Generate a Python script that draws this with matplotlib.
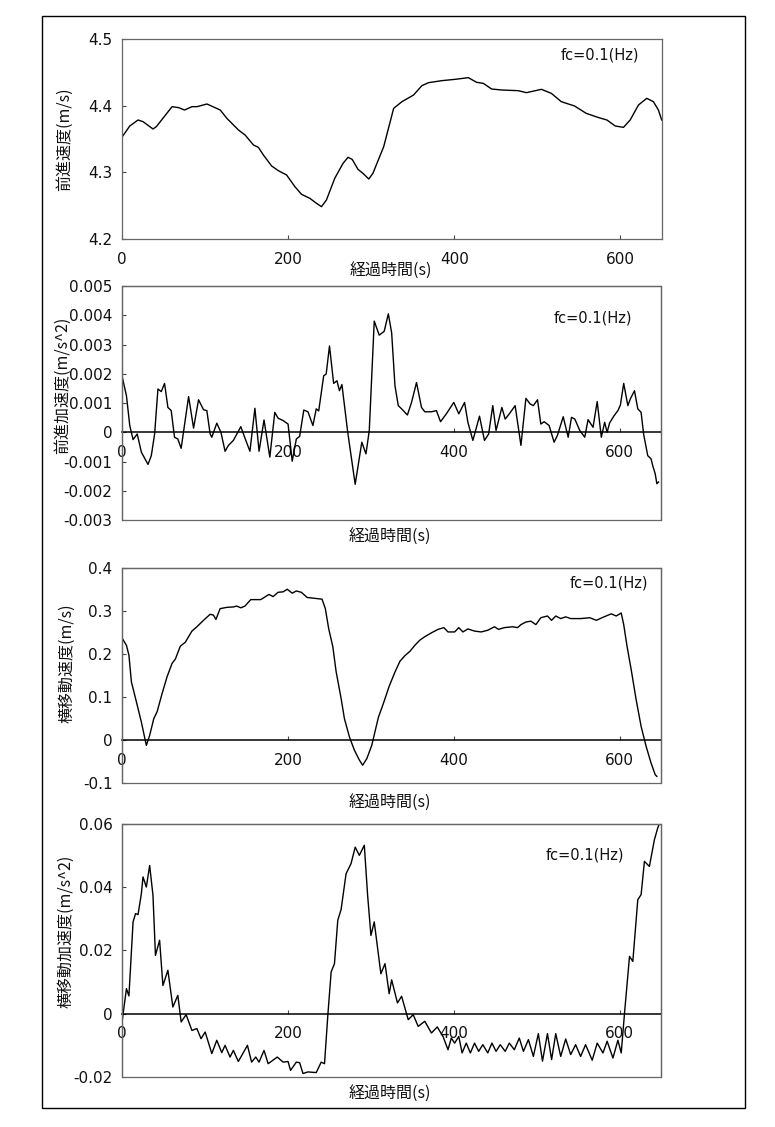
import matplotlib
matplotlib.use("Agg")
import matplotlib.pyplot as plt
from matplotlib.patches import Rectangle
from matplotlib.ticker import FuncFormatter

JP = ['Noto Sans CJK JP', 'DejaVu Sans']
plt.rcParams['font.family'] = ['DejaVu Sans']

# ---------------- data ----------------
xlabel = "経過時間(s)"
ylabels = ["前進速度(m/s)", "前進加速度(m/s^2)", "横移動速度(m/s)", "横移動加速度(m/s^2)"]
note = "fc=0.1(Hz)"
xticks = [0, 200, 400, 600]

# panel 1: forward speed
t1 = [0, 9, 19, 25, 37, 41, 60, 68, 75, 84, 90, 102, 118, 126, 140, 148, 158, 164, 170,
      180, 188, 198, 208, 216, 226, 234, 240, 246, 256, 266, 272, 277, 284, 290, 297, 302,
      315, 327, 337, 351, 361, 369, 385, 401, 417, 427, 435, 445, 457, 477, 487, 505, 517,
      529, 545, 559, 573, 584, 594, 604, 612, 622, 632, 640, 646, 650]
v1 = [4.3535, 4.3695, 4.3785, 4.376, 4.365, 4.3685, 4.3985, 4.397, 4.3935, 4.3985, 4.3985,
      4.4025, 4.3935, 4.381, 4.3635, 4.356, 4.341, 4.3375, 4.326, 4.3095, 4.3025, 4.296,
      4.2785, 4.267, 4.261, 4.2535, 4.2485, 4.2585, 4.291, 4.3135, 4.3225, 4.3195, 4.3045,
      4.2985, 4.29, 4.2985, 4.3385, 4.396, 4.406, 4.416, 4.430, 4.4345, 4.4375, 4.4395,
      4.442, 4.435, 4.4335, 4.425, 4.4235, 4.4225, 4.4195, 4.4245, 4.4185, 4.406, 4.3995,
      4.3885, 4.3825, 4.3785, 4.3695, 4.3675, 4.3785, 4.401, 4.411, 4.406, 4.3935, 4.3785]

# panel 2: forward acceleration
t2 = [0, 5, 9, 13, 18, 23, 31, 35, 39, 43, 47, 51, 55, 59, 63, 67, 71, 75, 80, 86, 92, 98,
      102, 106, 108, 114, 119, 124, 128, 134, 143, 148, 154, 160, 165, 171, 178, 184, 188,
      194, 200, 205, 210, 214, 219, 224, 230, 234, 237, 243, 246, 250, 255, 259, 262, 265,
      272, 281, 289, 294, 298, 304, 310, 316, 321, 325, 329, 333, 337, 344, 349, 355, 361,
      365, 373, 379, 384, 391, 400, 406, 413, 417, 423, 431, 437, 442, 447, 451, 458, 462,
      467, 474, 481, 487, 492, 496, 501, 505, 509, 515, 521, 525, 532, 538, 542, 546, 552,
      558, 562, 568, 573, 578, 582, 585, 588, 593, 598, 601, 605, 610, 613, 618, 622, 626,
      629, 634, 638, 640, 643, 645, 647]
a2 = [0.00188, 0.00125, 0.00023, -0.00025, -0.00006, -0.00068, -0.0011, -0.0008, -0.00006,
      0.00148, 0.00139, 0.00167, 0.00085, 0.00074, -0.00017, -0.00023, -0.00055, 0.00023,
      0.00122, 0.00014, 0.00111, 0.00077, 0.00074, -0.00006, -0.00017, 0.00031, 0.0,
      -0.00065, -0.00045, -0.00028, 0.00019, -0.0002, -0.00065, 0.00082, -0.00065, 0.00042,
      -0.00085, 0.00068, 0.00048, 0.0004, 0.00028, -0.00099, -0.00023, -0.00014, 0.00076,
      0.0007, 0.00023, 0.0008, 0.00073, 0.00193, 0.00199, 0.00295, 0.00167, 0.00176,
      0.00142, 0.00163, 0.0, -0.00178, -0.00034, -0.00074, 0.00006, 0.0038, 0.00332,
      0.00345, 0.00405, 0.0034, 0.00159, 0.00091, 0.0008, 0.00059, 0.00102, 0.0017,
      0.00085, 0.0007, 0.0007, 0.00074, 0.00036, 0.00063, 0.00102, 0.00063, 0.00102,
      0.00034, -0.00028, 0.00055, -0.00028, -0.00006, 0.00091, 0.00006, 0.00085, 0.00045,
      0.00063, 0.00091, -0.00045, 0.00116, 0.00097, 0.00091, 0.00111, 0.00028, 0.00036,
      0.00023, -0.00034, -0.00011, 0.00053, -0.00017, 0.00051, 0.00045, 0.00006, -0.00017,
      0.00043, 0.00017, 0.00105, -0.00017, 0.00034, 0.0, 0.00032, 0.00055, 0.00074,
      0.00093, 0.00167, 0.00091, 0.00114, 0.00142, 0.0008, 0.00068, -0.00006, -0.0008,
      -0.00091, -0.00114, -0.00142, -0.00176, -0.0017]

# panel 3: lateral speed
t3 = [0, 5, 8, 11, 17, 23, 29, 33, 38, 42, 48, 54, 60, 64, 70, 76, 84, 90, 98, 106, 110,
      113, 118, 126, 134, 138, 143, 148, 155, 167, 177, 182, 188, 194, 199, 205, 210, 216,
      223, 232, 241, 245, 249, 254, 258, 264, 268, 274, 280, 286, 290, 295, 301, 309, 315,
      322, 329, 335, 341, 347, 353, 359, 365, 373, 381, 388, 393, 401, 406, 411, 417, 425,
      433, 441, 449, 454, 461, 471, 477, 481, 487, 493, 499, 505, 513, 518, 523, 529, 535,
      541, 553, 564, 572, 580, 590, 596, 602, 605, 609, 614, 620, 626, 632, 638, 643, 645]
v3 = [0.236, 0.220, 0.197, 0.135, 0.089, 0.042, -0.012, 0.011, 0.050, 0.066, 0.108, 0.147,
      0.178, 0.188, 0.218, 0.227, 0.253, 0.263, 0.278, 0.292, 0.290, 0.280, 0.305, 0.308,
      0.309, 0.311, 0.307, 0.311, 0.326, 0.326, 0.338, 0.333, 0.343, 0.344, 0.350, 0.341,
      0.346, 0.343, 0.331, 0.329, 0.327, 0.305, 0.259, 0.217, 0.159, 0.097, 0.050, 0.008,
      -0.023, -0.046, -0.058, -0.043, -0.012, 0.053, 0.085, 0.125, 0.158, 0.183, 0.196,
      0.206, 0.220, 0.232, 0.240, 0.249, 0.257, 0.261, 0.251, 0.251, 0.261, 0.251, 0.258,
      0.253, 0.251, 0.255, 0.263, 0.257, 0.261, 0.263, 0.261, 0.268, 0.274, 0.276, 0.268,
      0.284, 0.288, 0.278, 0.288, 0.282, 0.286, 0.282, 0.282, 0.284, 0.278, 0.285, 0.293,
      0.288, 0.295, 0.268, 0.218, 0.164, 0.094, 0.032, -0.014, -0.053, -0.080, -0.084]

# panel 4: lateral acceleration
t4 = [0, 1, 5, 8, 13, 16, 19, 23, 25, 29, 33, 37, 40, 45, 49, 55, 61, 67, 71, 77, 84, 90,
      95, 100, 108, 114, 120, 124, 130, 134, 140, 151, 156, 161, 165, 171, 176, 187, 194,
      200, 203, 210, 214, 218, 224, 234, 240, 244, 248, 252, 256, 260, 264, 270, 276, 281,
      286, 292, 296, 300, 304, 312, 317, 322, 325, 332, 337, 345, 351, 357, 365, 373, 380,
      387, 393, 397, 401, 406, 410, 415, 420, 425, 430, 435, 441, 446, 451, 456, 462, 467,
      473, 479, 484, 490, 496, 502, 507, 513, 518, 523, 529, 535, 541, 547, 553, 559, 567,
      573, 580, 585, 592, 598, 602, 606, 612, 616, 622, 626, 630, 636, 642, 646, 648]
a4 = [-0.0021, 0.0, 0.0079, 0.0056, 0.029, 0.0316, 0.0313, 0.0379, 0.0432, 0.040, 0.0468,
      0.0374, 0.0184, 0.0232, 0.0089, 0.0137, 0.0021, 0.0058, -0.0026, -0.0003, -0.0053,
      -0.0047, -0.0079, -0.0058, -0.0126, -0.0084, -0.0123, -0.010, -0.0137, -0.0116,
      -0.0151, -0.010, -0.0153, -0.0137, -0.0153, -0.0116, -0.0158, -0.0137, -0.0153,
      -0.0151, -0.0179, -0.0153, -0.0155, -0.0189, -0.0184, -0.0186, -0.0153, -0.0158,
      -0.0005, 0.0132, 0.0158, 0.0295, 0.0329, 0.0442, 0.0474, 0.0526, 0.050, 0.0532,
      0.0374, 0.0247, 0.029, 0.0126, 0.0158, 0.0063, 0.0107, 0.0034, 0.0055, -0.0019,
      -0.0003, -0.004, -0.0024, -0.0061, -0.0042, -0.0072, -0.0114, -0.0077, -0.0093,
      -0.0072, -0.0124, -0.0093, -0.0124, -0.0093, -0.0119, -0.0098, -0.0124, -0.0093,
      -0.0119, -0.0098, -0.0119, -0.0093, -0.0114, -0.0077, -0.0119, -0.0082, -0.0135,
      -0.0063, -0.015, -0.0063, -0.0145, -0.0063, -0.0135, -0.008, -0.0129, -0.0098,
      -0.0135, -0.0098, -0.0147, -0.0093, -0.0124, -0.0087, -0.014, -0.0084, -0.0124,
      0.0002, 0.0181, 0.0165, 0.036, 0.0376, 0.0481, 0.0465, 0.0549, 0.0586, 0.0600]

ylims = [(4.2, 4.5), (-0.003, 0.005), (-0.1, 0.4), (-0.02, 0.06)]
ytick_lists = [[4.2, 4.3, 4.4, 4.5],
               [-0.003, -0.002, -0.001, 0, 0.001, 0.002, 0.003, 0.004, 0.005],
               [-0.1, 0, 0.1, 0.2, 0.3, 0.4],
               [-0.02, 0, 0.02, 0.04, 0.06]]
ytick_fmts = ["%.1f", "%.3f", "%.1f", "%.2f"]

# ---------------- layout (pixels) ----------------
W, H = 775, 1127
fig = plt.figure(figsize=(W / 100, H / 100), dpi=100)
fig.patch.set_facecolor('white')

boxes = [(122.3, 661.7, 39, 239), (122.3, 661.0, 286, 520),
         (122.3, 661.0, 567.7, 783.3), (122.3, 661.0, 823.7, 1077)]
ylab_x = [64, 62, 67, 66]
ylab_yfrac = [0.5, 0.577, 0.558, 0.576]
xlab_px = [32, 17, 20, 17]
note_pos = [(0.813, 0.92), (0.800, 0.862), (0.831, 0.928), (0.785, 0.875)]

series = [(t1, v1), (t2, a2), (t3, v3), (t4, a4)]

for i, ((l, r, tp, bt), (tx, ty)) in enumerate(zip(boxes, series)):
    ax = fig.add_axes([l / W, 1 - bt / H, (r - l) / W, (bt - tp) / H])
    ax.plot(tx, ty, color='black', lw=1.0)
    ax.set_xlim(0, 650)
    ax.set_ylim(*ylims[i])
    ax.set_xticks(xticks)
    ax.set_xticklabels([str(x) for x in xticks])
    ax.set_yticks(ytick_lists[i])
    fmt = ytick_fmts[i]
    ax.yaxis.set_major_formatter(FuncFormatter(
        lambda v, p, fmt=fmt: "0" if abs(v) < 1e-12 else (fmt % v)))
    for s in ax.spines.values():
        s.set_color('#666666')
        s.set_linewidth(0.9)
    if i > 0:
        ax.spines['bottom'].set_position(('data', 0))
        ax.spines['bottom'].set_color('black')
        ax.spines['bottom'].set_linewidth(1.1)
        ax.add_patch(Rectangle((0, 0), 1, 1, transform=ax.transAxes, fill=False,
                               ec='#666666', lw=0.9, clip_on=False, zorder=3))
    ax.tick_params(axis='both', direction='in', length=3, width=0.8, color='#444444',
                   labelsize=11, labelcolor='#111111')
    ax.tick_params(axis='x', pad=9)
    ax.tick_params(axis='y', pad=7)
    ax.set_xlabel(xlabel, fontsize=11.5, family=JP, color='#111111')
    ax.xaxis.label.set_va('center')
    ax.xaxis.set_label_coords(0.497, -xlab_px[i] / (bt - tp))
    ax.set_ylabel(ylabels[i], fontsize=11.5, family=JP, color='#111111')
    ax.yaxis.label.set_va('center')
    ax.yaxis.set_label_coords((ylab_x[i] - l) / (r - l), ylab_yfrac[i])
    ax.text(note_pos[i][0], note_pos[i][1], note, transform=ax.transAxes,
            fontsize=10.5, ha='left', va='center', color='#111111')

# outer frame
fig.patches.append(Rectangle((42 / W, 1 - 1108 / H), (745 - 42) / W, (1108 - 16) / H,
                             transform=fig.transFigure, fill=False, ec='black', lw=1.0))

fig.savefig("out.png", dpi=100)
